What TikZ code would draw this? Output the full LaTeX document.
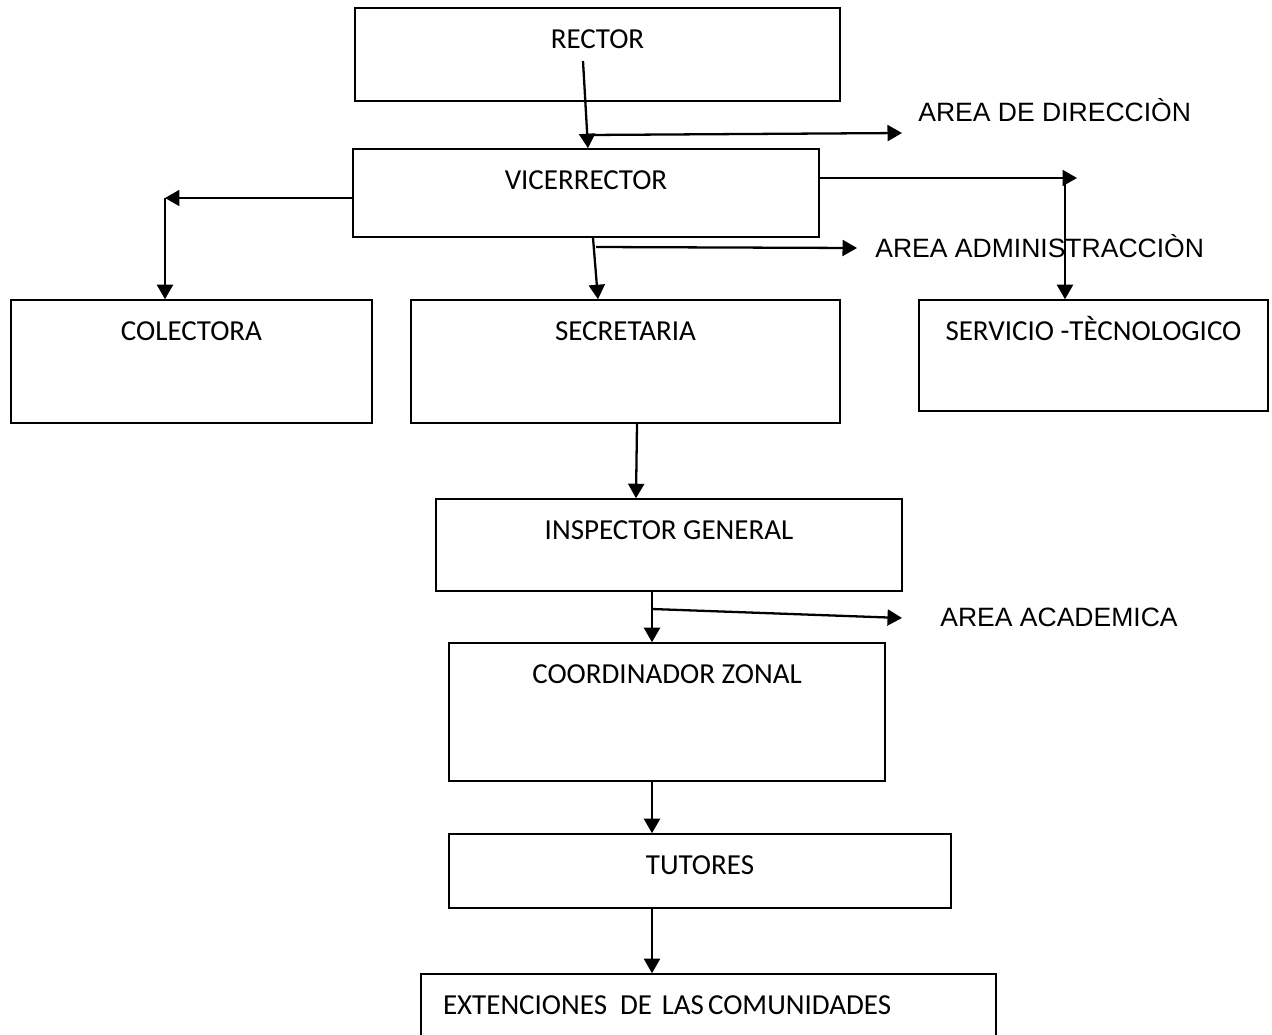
\documentclass[tikz,border=0pt]{standalone}
\usepackage{fontspec}
\setmainfont{Carlito}
\newfontfamily\arial{Liberation Sans}
\usetikzlibrary{arrows.meta}

\begin{document}
\begin{tikzpicture}[x=0.02cm, y=-0.02cm,
    caja/.style={draw, line width=0.9pt, rectangle, inner xsep=0pt, inner ysep=0pt,
        text height=0.8cm, font=\fontsize{16.5}{20}\selectfont},
    flecha/.style={-{Triangle[length=0.29cm, width=0.32cm]}, line width=1.3pt},
    area/.style={inner sep=0pt, anchor=base west, font=\arial\fontsize{15.1}{18}\selectfont}]
    \useasboundingbox (0,0) rectangle (1272,1035);
    \clip (0,0) rectangle (1272,1035);

    % cajas del organigrama
    \node[caja, minimum width=9.7cm, text depth=1.06cm] (rector) at (597.5,54.5) {RECTOR};
    \node[caja, minimum width=9.32cm, text depth=0.96cm] (vice) at (586,193) {VICERRECTOR};
    \node[caja, minimum width=7.22cm, text depth=1.66cm] (colectora) at (191.5,361.5) {COLECTORA};
    \node[caja, minimum width=8.58cm, text depth=1.66cm] (secretaria) at (625.5,361.5) {SECRETARIA};
    \node[caja, minimum width=6.98cm, text depth=1.42cm] (servicio) at (1093.5,355.5) {SERVICIO -TÈCNOLOGICO};
    \node[caja, minimum width=9.32cm, text depth=1.04cm] (inspector) at (669,545) {INSPECTOR GENERAL};
    \node[caja, minimum width=8.72cm, text depth=1.96cm] (coordinador) at (667,712) {COORDINADOR ZONAL};
    \node[caja, minimum width=10.04cm, text depth=0.68cm] (tutores) at (700,871) {TUTORES};
    \node[caja, text width=10.62cm, inner xsep=0.44cm, align=left, text depth=0.8cm] (extenciones) at (708.5,1014)
        {EXTENCIONES\hspace{0.45em}DE LAS\hspace{0.14em}COMUNIDADES};

    % areas
    \node[area] (adir) at (918,121.5) {AREA DE DIRECCIÒN};
    \node[area] (aadm) at (875,257.5) {AREA ADMINISTRACCIÒN};
    \node[area] (aaca) at (940,626.5) {AREA ACADEMICA};

    % puntos auxiliares
    \coordinate (r0) at (583,61);
    \coordinate (d0) at (588,135);
    \coordinate (d1) at (902,133);
    \coordinate (c1) at (165,198);
    \coordinate (s1) at (1077,178);
    \coordinate (s2) at (1065,180);
    \coordinate (x1) at (593,240);
    \coordinate (x2) at (598,300);
    \coordinate (m0) at (596,247);
    \coordinate (m1) at (857,248);
    \coordinate (x3) at (637,420);
    \coordinate (x4) at (636,500);
    \coordinate (k0) at (652,609);
    \coordinate (k1) at (902,618);

    % flechas
    \draw[flecha] (r0) -- (vice.north -| d0);
    \draw[flecha] (d0) -- (d1);
    \draw[flecha] (vice.west |- c1) -- (c1);
    \draw[flecha] (c1) -- (colectora.north -| c1);
    \draw[flecha] (vice.east |- s1) -- (s1);
    \draw[flecha] (s2) -- (servicio.north -| s2);
    \draw[flecha] (vice.south -| x1) -- (secretaria.north -| x2);
    \draw[flecha] (m0) -- (m1);
    \draw[flecha] (secretaria.south -| x3) -- (inspector.north -| x4);
    \draw[flecha] (inspector.south -| k0) -- (coordinador.north -| k0);
    \draw[flecha] (k0) -- (k1);
    \draw[flecha] (coordinador.south -| k0) -- (tutores.north -| k0);
    \draw[flecha] (tutores.south -| k0) -- (extenciones.north -| k0);
\end{tikzpicture}
\end{document}
